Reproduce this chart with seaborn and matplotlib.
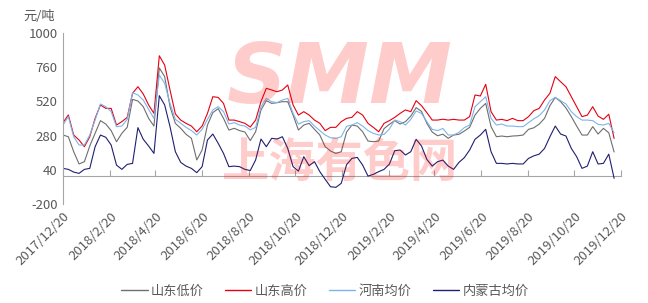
import matplotlib
matplotlib.use("Agg")
import matplotlib.pyplot as plt
import seaborn as sns
import pandas as pd
import numpy as np

# ---------------- data (weekly readings, 元/吨) ----------------
start_date = "2017-12-20"
n_weeks = 104

shandong_low = [284, 272, 167, 81, 97, 207, 296, 385, 361, 315, 237, 296, 338, 534, 523, 483, 401, 347,
                755, 694, 483, 366, 331, 289, 261, 109, 179, 354, 441, 469, 401, 319, 331, 315, 305, 245,
                307, 460, 525, 506, 511, 518, 518, 424, 319, 354, 366, 324, 284, 202, 172, 155, 167, 305,
                354, 347, 307, 242, 237, 242, 329, 359, 385, 361, 378, 417, 476, 450, 366, 305, 279, 290,
                261, 284, 289, 312, 338, 424, 471, 506, 343, 272, 277, 272, 277, 279, 284, 324, 335, 361,
                401, 490, 548, 518, 474, 413, 347, 284, 284, 343, 291, 331, 300, 165]
shandong_high = [371, 425, 284, 249, 202, 272, 401, 495, 471, 471, 354, 378, 408, 577, 623, 572, 495, 436,
                 840, 775, 600, 432, 389, 366, 347, 307, 347, 436, 553, 548, 506, 389, 389, 378, 366, 340,
                 389, 518, 612, 600, 588, 600, 635, 495, 424, 448, 424, 389, 366, 315, 338, 338, 378, 401,
                 408, 448, 424, 366, 338, 307, 366, 385, 408, 436, 460, 448, 525, 490, 441, 389, 389, 395,
                 389, 394, 389, 389, 413, 565, 558, 640, 448, 389, 394, 385, 401, 385, 385, 413, 455, 471,
                 530, 577, 694, 658, 623, 553, 483, 413, 424, 483, 417, 394, 430, 260]
henan_avg = [354, 413, 272, 214, 214, 284, 389, 502, 483, 448, 343, 347, 394, 581, 565, 530, 464, 401,
             705, 647, 506, 394, 366, 338, 315, 284, 324, 394, 460, 483, 448, 361, 371, 354, 347, 320,
             338, 483, 541, 518, 511, 530, 541, 436, 361, 378, 385, 347, 315, 284, 265, 261, 272, 345,
             354, 371, 347, 315, 296, 284, 289, 326, 389, 378, 354, 394, 453, 436, 378, 324, 315, 330,
             284, 284, 303, 336, 354, 483, 518, 553, 401, 354, 361, 347, 347, 343, 343, 371, 398, 420,
             460, 525, 548, 525, 502, 448, 413, 389, 389, 385, 359, 354, 366, 300]
neimenggu_avg = [50, 43, 24, 15, 43, 50, 202, 284, 268, 214, 73, 43, 78, 85, 336, 254, 207, 155,
                 560, 495, 343, 167, 92, 66, 50, 20, 62, 249, 291, 226, 155, 62, 66, 62, 43, 35,
                 109, 256, 202, 261, 256, 272, 190, 62, 31, 132, 69, 97, 27, -27, -79, -83, -55, 76,
                 120, 127, 73, -4, 8, 27, 43, 80, 174, 179, 144, 167, 254, 207, 113, 66, 97, 108,
                 66, 43, 92, 125, 179, 254, 284, 324, 167, 85, 85, 81, 85, 81, 81, 120, 138, 150,
                 190, 272, 347, 291, 277, 190, 132, 50, 66, 167, 81, 85, 150, -20]

series_names = ["山东低价", "山东高价", "河南均价", "内蒙古均价"]
series_colors = ["#6e6e6e", "#e60012", "#7db4ea", "#1f2070"]
y_ticks = [-200, 40, 280, 520, 760, 1000]
x_tick_labels = ["2017/12/20", "2018/2/20", "2018/4/20", "2018/6/20", "2018/8/20", "2018/10/20",
                 "2018/12/20", "2019/2/20", "2019/4/20", "2019/6/20", "2019/8/20", "2019/10/20",
                 "2019/12/20"]
unit_label = "元/吨"

# ---------------- build table ----------------
dates = pd.date_range(start_date, periods=n_weeks, freq="7D")
frames = []
for name, vals in zip(series_names, [shandong_low, shandong_high, henan_avg, neimenggu_avg]):
    frames.append(pd.DataFrame({"date": dates, "value": vals, "series": name}))
df = pd.concat(frames, ignore_index=True)

# ---------------- style ----------------
sns.set_theme(style="white")
plt.rcParams["font.family"] = ["Noto Sans CJK SC", "DejaVu Sans"]
plt.rcParams["axes.unicode_minus"] = False
text_gray = "#595959"
axis_gray = "#a6a6a6"

fig = plt.figure(figsize=(6.48, 3.03), dpi=100)
ax = fig.add_axes([63 / 648, 1 - 204 / 303, (621 - 63) / 648, (204 - 33) / 303])

sns.lineplot(data=df, x="date", y="value", hue="series", hue_order=series_names,
             palette=dict(zip(series_names, series_colors)), linewidth=0.8, ax=ax)

tick_dates = pd.to_datetime(x_tick_labels, format="%Y/%m/%d")
ax.set_xlim(tick_dates[0], tick_dates[-1])
ax.set_ylim(y_ticks[0], y_ticks[-1])
ax.set_yticks(y_ticks)
ax.set_yticklabels([str(v) for v in y_ticks], fontsize=9.5, color=text_gray)
ax.set_xticks(tick_dates)
ax.set_xticklabels(x_tick_labels, rotation=45, ha="right", rotation_mode="anchor",
                   fontsize=9.5, color=text_gray)
ax.tick_params(axis="x", length=0, pad=4)
ax.tick_params(axis="y", direction="in", length=4, color=axis_gray, width=0.8, pad=4)
ax.set_xlabel("")
ax.set_ylabel("")
for s in ["top", "right", "bottom"]:
    ax.spines[s].set_visible(False)
ax.spines["left"].set_color(axis_gray)
ax.spines["left"].set_linewidth(0.8)

# horizontal axis line crossing at 0
zero_frac = (0 - y_ticks[0]) / (y_ticks[-1] - y_ticks[0])
sec = ax.secondary_xaxis(zero_frac)
sec.set_xticks(tick_dates)
sec.set_xticklabels([])
sec.tick_params(axis="x", direction="in", length=4, color=axis_gray, width=0.8)
sec.spines["bottom"].set_color(axis_gray)
sec.spines["bottom"].set_linewidth(0.8)

# legend
old = ax.get_legend()
handles = old.legend_handles
labels = [t.get_text() for t in old.texts]
old.remove()
for h in handles:
    h.set_linewidth(1.0)
leg = ax.legend(handles, labels, loc="center", bbox_to_anchor=(0.5015, 0.04),
                bbox_transform=fig.transFigure, ncol=4, frameon=False, fontsize=9.5,
                handlelength=2.0, handletextpad=0.25, columnspacing=1.6)
for t in leg.get_texts():
    t.set_color(text_gray)

# unit label
fig.text(39 / 648, 1 - 16 / 303, unit_label, ha="center", va="center", fontsize=9.5, color=text_gray)

# watermark
fig.text(340 / 648, 1 - 80 / 303, "SMM", ha="center", va="center", fontsize=60,
         fontweight="bold", fontstyle="oblique", family="DejaVu Sans", color="red", alpha=0.2, zorder=10)
fig.text(340 / 648, 1 - 163 / 303, "上海有色网", ha="center", va="center", fontsize=34,
         fontweight="bold", color="red", alpha=0.2, zorder=10)

fig.savefig("out.png", dpi=100)
